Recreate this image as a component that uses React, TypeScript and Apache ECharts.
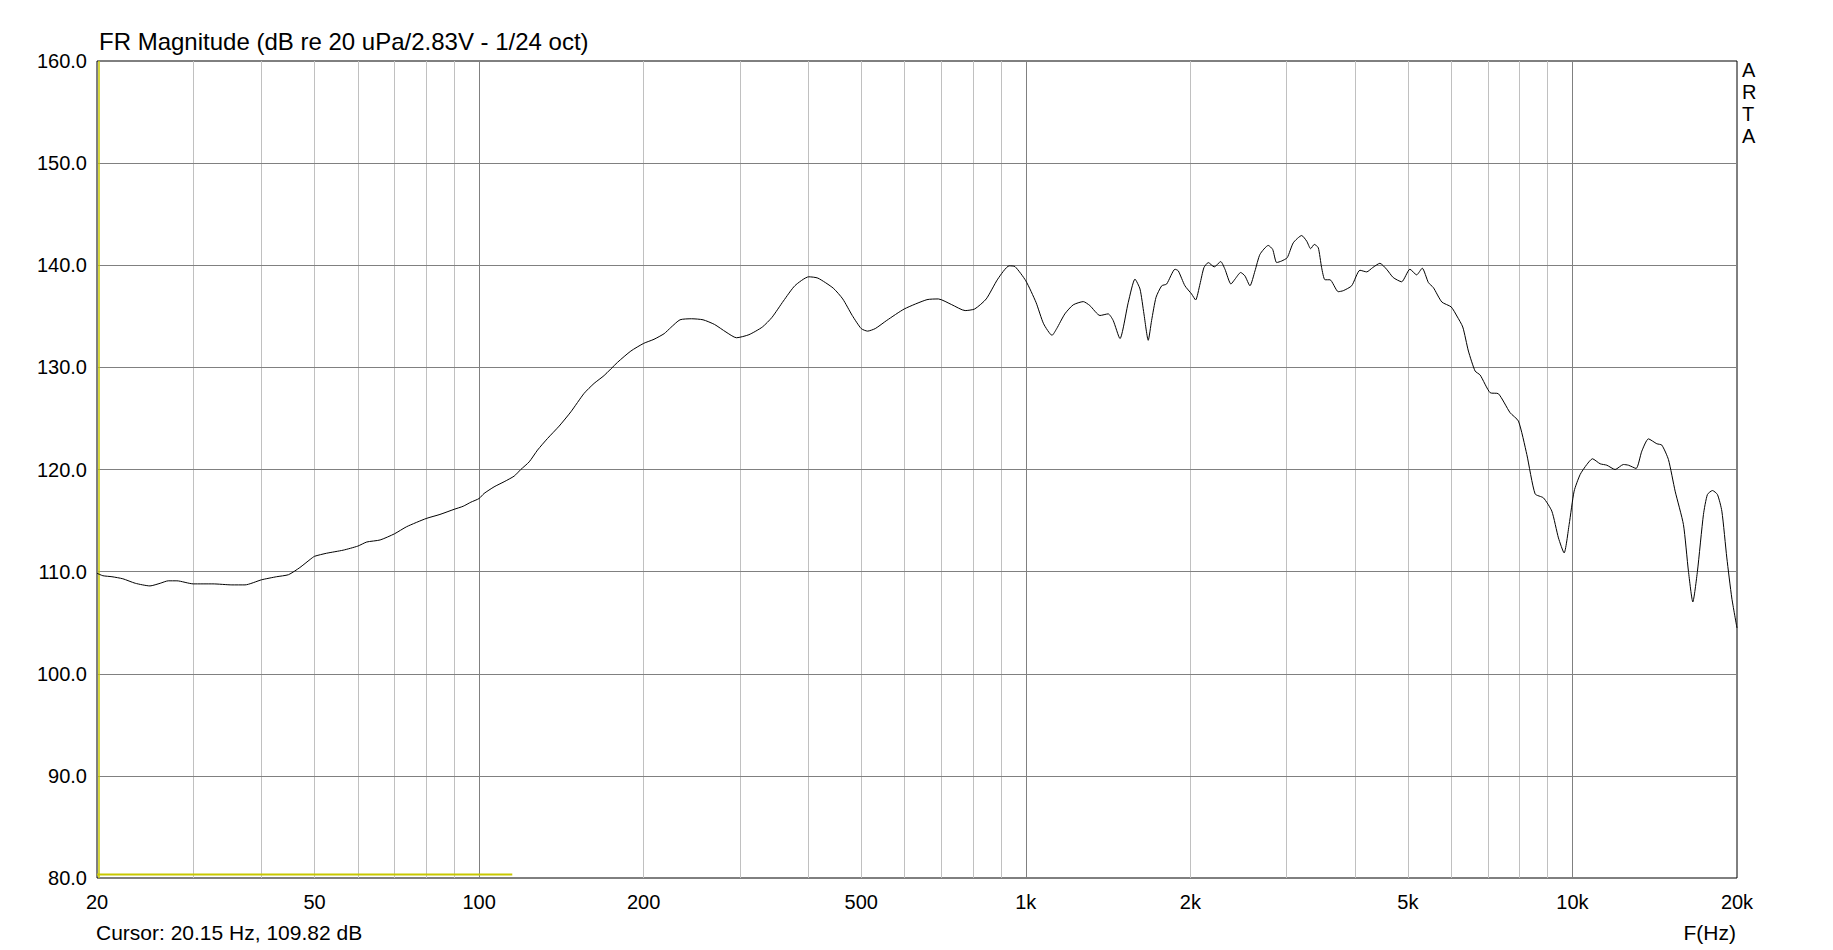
import React, { useEffect, useRef } from "react";
import * as echarts from "echarts";

// Frequency response (1/24 oct smoothed)
const freqHz = [
  20, 20.5, 21.3, 22.3, 23.5, 25.0, 26.1, 27.0, 28.0, 30, 32.6, 35.3, 37.3, 40, 42.6, 44.8, 47.0, 49.1, 50, 52.6,
  56.4, 60, 62.3, 65.9, 70, 73.7, 80, 84.8, 90, 93.5, 96.6, 100, 102.1, 106.5, 111.1, 115.9, 119.2, 123.5, 127.9, 133.4,
  140.1, 147.2, 155.6, 162.3, 169.3, 179.2, 189.5, 200, 208.9, 218, 224.2, 233.1, 244.7, 256.8, 269.6, 282.9, 295.6, 311.6, 329.7, 343.4,
  360.3, 378.2, 400.9, 416.6, 444.4, 462.6, 481.5, 500, 513.6, 530.5, 556.9, 600, 659.5, 692, 732.1, 774.6, 806.5, 846.6, 888.6, 932.5,
  955.5, 1000, 1044, 1078, 1117, 1139, 1179, 1221, 1274, 1310, 1367, 1415, 1445, 1487, 1540, 1584, 1618, 1645, 1675, 1699,
  1731, 1773, 1810, 1875, 1901, 1955, 2011, 2045, 2083, 2118, 2157, 2212, 2273, 2314, 2373, 2414, 2472, 2517, 2571, 2626,
  2682, 2777, 2829, 2877, 2939, 3008, 3086, 3197, 3265, 3320, 3371, 3428, 3477, 3526, 3601, 3729, 3809, 3946, 4086, 4204,
  4311, 4444, 4571, 4700, 4870, 5043, 5188, 5312, 5452, 5567, 5769, 6000, 6146, 6301, 6452, 6637, 6779, 7070, 7320, 7691,
  7966, 8252, 8546, 8851, 9169, 9428, 9656, 9862, 10072, 10330, 10625, 10878, 11237, 11559, 11970, 12397, 12660, 13077, 13394, 13772,
  14268, 14571, 14982, 15412, 15960, 16301, 16605, 16930, 17364, 17658, 18035, 18418, 18764, 19162, 19566, 20000,
];
const splDb = [
  109.84, 109.6, 109.5, 109.3, 108.86, 108.6, 108.86, 109.1, 109.1, 108.8, 108.8, 108.7, 108.7, 109.2, 109.5, 109.7, 110.4, 111.2, 111.5, 111.8,
  112.1, 112.5, 112.9, 113.1, 113.7, 114.4, 115.2, 115.6, 116.1, 116.4, 116.8, 117.16, 117.65, 118.3, 118.8, 119.35, 120.0, 120.75, 121.9, 123.04,
  124.25, 125.65, 127.45, 128.43, 129.2, 130.5, 131.6, 132.35, 132.75, 133.3, 133.9, 134.66, 134.76, 134.66, 134.2, 133.46, 132.9, 133.2, 133.95, 134.9,
  136.5, 138.0, 138.87, 138.74, 137.76, 136.7, 135.08, 133.8, 133.55, 133.8, 134.6, 135.73, 136.63, 136.7, 136.14, 135.56, 135.72, 136.7, 138.64, 139.94,
  139.87, 138.48, 136.37, 134.27, 133.14, 133.79, 135.24, 136.12, 136.44, 136.05, 135.08, 135.24, 134.6, 132.82, 136.37, 138.64, 137.67, 135.24, 132.65, 134.6,
  136.86, 137.99, 138.16, 139.61, 139.45, 137.99, 137.18, 136.6, 138.16, 139.77, 140.26, 139.84, 140.36, 139.61, 138.16, 138.64, 139.29, 138.96, 137.99, 139.45,
  141.07, 141.94, 141.55, 140.26, 140.42, 140.74, 142.2, 142.91, 142.36, 141.62, 142.04, 141.72, 139.77, 138.58, 138.58, 137.41, 137.51, 137.99, 139.51, 139.35,
  139.77, 140.19, 139.61, 138.8, 138.38, 139.61, 139.06, 139.71, 138.3, 137.81, 136.4, 135.92, 135.03, 133.95, 131.6, 129.64, 129.25, 127.52, 127.42, 125.56,
  124.74, 121.47, 117.61, 117.22, 115.92, 113.3, 111.83, 114.61, 117.88, 119.51, 120.49, 121.05, 120.56, 120.42, 120.0, 120.49, 120.42, 120.1, 121.8, 123.0,
  122.52, 122.39, 120.98, 117.88, 114.61, 110.03, 107.03, 110.03, 115.59, 117.55, 117.94, 117.55, 115.92, 111.34, 107.42, 104.48,
];

// Axis / grid definitions
const xTickValues = [20, 50, 100, 200, 500, 1000, 2000, 5000, 10000, 20000];
const xTickLabels = ["20", "50", "100", "200", "500", "1k", "2k", "5k", "10k", "20k"];
const minorGridHz = [30, 40, 50, 60, 70, 80, 90, 200, 300, 400, 500, 600, 700, 800, 900, 2000, 3000, 4000, 5000, 6000, 7000, 8000, 9000];
const majorGridHz = [100, 1000, 10000];
const yGridDb = [90, 100, 110, 120, 130, 140, 150];
const cursorHz = 20.15;
const cursorDb = 109.82;
const floorLineHz = [20, 115];
const floorLineDb = [80.35, 80.35];

const FONT = "'Liberation Sans', Arial, sans-serif";
const YELLOW = "#c8c800";

export default function App() {
  const ref = useRef<HTMLDivElement>(null);
  useEffect(() => {
    if (!ref.current) return;
    const chart = echarts.init(ref.current, null, { renderer: "svg" });
    const curve = freqHz.map((f, i) => [f, splDb[i]]);
    const floor = floorLineHz.map((f, i) => [f, floorLineDb[i]]);
    chart.setOption({
      animation: false,
      backgroundColor: "#ffffff",
      textStyle: { fontFamily: FONT },
      title: {
        text: "FR Magnitude (dB re 20 uPa/2.83V - 1/24 oct)",
        left: 99,
        top: 29,
        padding: 0,
        textStyle: { fontSize: 24, fontWeight: "normal", color: "#000", fontFamily: FONT },
      },
      grid: {
        left: 97,
        right: 96,
        top: 61,
        bottom: 72,
        show: true,
        borderColor: "#000",
        borderWidth: 1,
        backgroundColor: "#fff",
      },
      xAxis: {
        type: "log",
        logBase: 10,
        min: 20,
        max: 20000,
        axisLine: { show: false },
        axisTick: { show: false },
        axisLabel: { show: false },
        splitLine: { show: false },
      },
      yAxis: {
        type: "value",
        min: 80,
        max: 160,
        interval: 10,
        axisLine: { show: false },
        axisTick: { show: false },
        splitLine: { show: false },
        axisLabel: {
          margin: 10,
          fontSize: 20,
          color: "#000",
          fontFamily: FONT,
          formatter: (v: number) => v.toFixed(1),
        },
      },
      graphic: [
        {
          type: "text",
          left: 96,
          top: 922,
          style: { text: `Cursor: ${cursorHz} Hz, ${cursorDb} dB`, fontSize: 21, fill: "#000", fontFamily: FONT },
        },
        {
          type: "text",
          right: 97,
          top: 922,
          style: { text: "F(Hz)", fontSize: 21, fill: "#000", fontFamily: FONT },
        },
        {
          type: "text",
          left: 1742,
          top: 59,
          style: { text: "A\nR\nT\nA", fontSize: 20, lineHeight: 22, fill: "#000", fontFamily: FONT },
        },
      ],
      series: [
        {
          type: "line",
          name: "grid",
          data: floor,
          z: 6,
          symbol: "none",
          silent: true,
          lineStyle: { color: YELLOW, width: 2 },
          markLine: {
            silent: true,
            symbol: ["none", "none"],
            animation: false,
            label: { show: false },
            emphasis: { disabled: true },
            data: [
              ...minorGridHz.map((v) => ({ xAxis: v, lineStyle: { color: "#c0c0c0", width: 1, type: "solid" } })),
              ...majorGridHz.map((v) => ({ xAxis: v, lineStyle: { color: "#808080", width: 1, type: "solid" } })),
              ...yGridDb.map((v) => ({ yAxis: v, lineStyle: { color: "#808080", width: 1, type: "solid" } })),
              { xAxis: cursorHz, lineStyle: { color: YELLOW, width: 1.5, type: "solid" } },
            ],
          },
        },
        {
          type: "line",
          name: "xlabels",
          data: [],
          symbol: "none",
          silent: true,
          markLine: {
            silent: true,
            symbol: ["none", "none"],
            animation: false,
            lineStyle: { color: "rgba(0,0,0,0)", width: 0 },
            label: {
              show: true,
              position: "start",
              distance: 14,
              fontSize: 20,
              color: "#000",
              fontFamily: FONT,
              formatter: (p: any) => p.name,
            },
            data: xTickValues.map((v, i) => ({ xAxis: v, name: xTickLabels[i] })),
          },
        },
        {
          type: "line",
          name: "FR",
          data: curve,
          z: 10,
          symbol: "none",
          smooth: 0.2,
          silent: true,
          lineStyle: { color: "#000", width: 1 },
        },
      ],
    });
    return () => chart.dispose();
  }, []);
  return (
    <div
      ref={ref}
      style={{ position: "fixed", left: 0, top: 0, width: 1833, height: 950, background: "#fff" }}
    />
  );
}
